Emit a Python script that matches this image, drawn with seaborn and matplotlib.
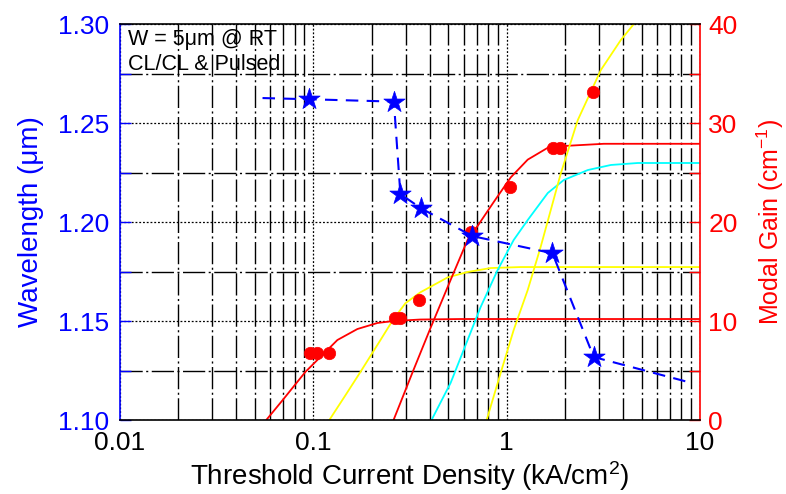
import numpy as np
import pandas as pd
import matplotlib
matplotlib.use("Agg")
import matplotlib.pyplot as plt
import seaborn as sns
from matplotlib.ticker import FixedLocator, NullFormatter, FixedFormatter

# ---------------- data ----------------
# wavelength vs threshold current density (left axis)
star_j = [0.0945, 0.261, 0.282, 0.361, 0.664, 1.725, 2.82]
star_wl = [1.2620, 1.2608, 1.2141, 1.2069, 1.1929, 1.1842, 1.1318]
trend_start_j, trend_start_wl = 0.0546, 1.2626
trend_end_j, trend_end_wl = 8.67, 1.1192

# measured modal gain points (right axis)
dot_j = [0.0965, 0.105, 0.121, 0.263, 0.282, 0.354, 0.651, 1.036, 1.73, 1.88, 2.79]
dot_g = [6.8, 6.8, 6.8, 10.3, 10.3, 12.1, 19.0, 23.5, 27.5, 27.5, 33.1]

# gain curves (right axis)
red1_j = [0.0571, 0.070, 0.0909, 0.1049, 0.1332, 0.169, 0.2146, 0.26, 0.358, 0.578, 10]
red1_g = [0.0, 2.1, 4.85, 6.06, 8.08, 9.19, 9.8, 10.0, 10.15, 10.2, 10.2]

yel1_j = [0.121, 0.1466, 0.1752, 0.2225, 0.2598, 0.2997, 0.358, 0.4948, 0.628, 0.826, 1.182, 10]
yel1_g = [0.0, 2.5, 4.85, 8.08, 10.2, 11.8, 12.9, 14.4, 14.95, 15.35, 15.45, 15.45]

red2_j = [0.26, 0.3296, 0.4037, 0.5128, 0.628, 0.7073, 0.856, 1.049, 1.285, 1.632, 2.07, 3.18, 10]
red2_g = [0.0, 5.05, 9.29, 14.14, 18.2, 19.6, 22.0, 24.5, 26.3, 27.5, 27.7, 27.9, 27.9]

cyan_j = [0.4087, 0.5128, 0.628, 0.7334, 0.898, 1.087, 1.285, 1.632, 1.974, 2.63, 3.46, 4.77, 10]
cyan_g = [0.0, 3.74, 8.08, 11.41, 15.15, 18.18, 20.2, 22.93, 24.24, 25.25, 25.76, 25.96, 25.96]

yel2_j = [0.788, 0.931, 1.087, 1.285, 1.50, 1.905, 2.333, 3.07, 3.90, 4.55, 5.25]
yel2_g = [0.0, 4.75, 9.09, 13.13, 17.5, 24.9, 30.3, 35.35, 38.4, 40.0, 41.2]

x_ticks = [0.01, 0.1, 1, 10]
x_labels = ["0.01", "0.1", "1", "10"]
wl_ticks = [1.10, 1.15, 1.20, 1.25, 1.30]
gain_ticks = [0, 10, 20, 30, 40]

# ---------------- style ----------------
sns.set_theme(style="white")
plt.rcParams["font.family"] = ["Liberation Sans", "DejaVu Sans"]
plt.rcParams["mathtext.fontset"] = "custom"
plt.rcParams["mathtext.rm"] = "Liberation Sans"
plt.rcParams["mathtext.it"] = "Liberation Sans:italic"
plt.rcParams["mathtext.default"] = "regular"

BLUE = (0, 0, 1)
RED = (1, 0, 0)
YEL = (1, 1, 0)
CYAN = (0, 1, 1)

fig = plt.figure(figsize=(7.86, 4.94), dpi=100)
ax = fig.add_axes([120 / 786, 1 - 420 / 494, 580 / 786, 396 / 494])
ax2 = ax.twinx()
ax.set_zorder(2)
ax2.set_zorder(1)
ax.patch.set_visible(False)
ax2.patch.set_facecolor("white")

for a in (ax, ax2):
    a.set_xscale("log")
    a.set_xlim(0.01, 10)

# ---------------- gain axis (lower layer, carries grid) ----------------
curves = [
    (red1_j, red1_g, RED),
    (yel1_j, yel1_g, YEL),
    (red2_j, red2_g, RED),
    (cyan_j, cyan_g, CYAN),
    (yel2_j, yel2_g, YEL),
]
for cj, cg, col in curves:
    df = pd.DataFrame({"J": cj, "G": cg})
    sns.lineplot(data=df, x="J", y="G", ax=ax2, color=col, lw=1.3,
                 sort=False, estimator=None, legend=False)

df_dots = pd.DataFrame({"J": dot_j, "G": dot_g})
sns.scatterplot(data=df_dots, x="J", y="G", ax=ax2, color=RED, s=80,
                edgecolor=RED, linewidth=0.5, legend=False, zorder=5)

ax2.set_ylim(0, 40)
ax2.yaxis.set_major_locator(FixedLocator(gain_ticks))
ax2.yaxis.set_minor_locator(FixedLocator([5, 15, 25, 35]))
ax2.yaxis.set_minor_formatter(NullFormatter())
ax2.set_yticklabels([str(t) for t in gain_ticks])
ax2.tick_params(axis="y", which="both", direction="in", colors=RED,
                length=8, width=1, labelsize=19, pad=6)
ax2.set_ylabel("Modal Gain (cm$^{-1}$)", color=RED, fontsize=18, labelpad=12)

minor_x = [m * 10.0 ** e for e in (-2, -1, 0) for m in range(2, 10)]
ax2.xaxis.set_visible(True)
ax2.xaxis.set_major_locator(FixedLocator(x_ticks))
ax2.xaxis.set_minor_locator(FixedLocator(minor_x))
ax2.xaxis.set_major_formatter(NullFormatter())
ax2.xaxis.set_minor_formatter(NullFormatter())
ax2.tick_params(axis="x", which="both", bottom=False, top=False,
                labelbottom=False, labeltop=False)
ax2.grid(which="major", axis="both", color="black", linestyle=(0, (1.5, 1.5)), lw=0.9)
ax2.grid(which="minor", axis="both", color="black", linestyle=(0, (16, 2.5, 1.5, 2.5)), lw=1.0)
ax2.set_axisbelow(True)
ax2.set_xlabel("")
for s in ("left", "top", "bottom"):
    ax2.spines[s].set_visible(False)
ax2.spines["right"].set_color(RED)
ax2.spines["right"].set_linewidth(1.2)

# ---------------- wavelength axis (top layer) ----------------
trend_j = [trend_start_j] + star_j + [trend_end_j]
trend_wl = [trend_start_wl] + star_wl + [trend_end_wl]
df_tr = pd.DataFrame({"J": trend_j, "WL": trend_wl})
sns.lineplot(data=df_tr, x="J", y="WL", ax=ax, color=BLUE, lw=1.5,
             sort=False, estimator=None, legend=False, dashes=False,
             linestyle=(0, (6, 4)))
df_st = pd.DataFrame({"J": star_j, "WL": star_wl})
sns.scatterplot(data=df_st, x="J", y="WL", ax=ax, color=BLUE, marker="*",
                s=260, edgecolor=BLUE, linewidth=0.5, legend=False, zorder=6)

ax.set_ylim(1.10, 1.30)
ax.yaxis.set_major_locator(FixedLocator(wl_ticks))
ax.yaxis.set_minor_locator(FixedLocator([1.125, 1.175, 1.225, 1.275]))
ax.yaxis.set_minor_formatter(NullFormatter())
ax.set_yticklabels([f"{t:.2f}" for t in wl_ticks])
ax.tick_params(axis="y", which="both", direction="in", colors=BLUE,
               length=8, width=1, labelsize=19, pad=8)
ax.set_ylabel("Wavelength (\u03bcm)", color=BLUE, fontsize=20, labelpad=10)

ax.xaxis.set_major_locator(FixedLocator(x_ticks))
ax.xaxis.set_major_formatter(FixedFormatter(x_labels))
ax.xaxis.set_minor_locator(FixedLocator(minor_x))
ax.xaxis.set_minor_formatter(NullFormatter())
ax.tick_params(axis="x", which="both", direction="in", colors="black",
               length=6, width=1, labelsize=19, pad=8, top=False)
ax.set_xlabel("Threshold Current Density (kA/cm$^2$)", color="black", fontsize=20, labelpad=3)
ax.grid(False)

ax.spines["right"].set_visible(False)
ax.spines["left"].set_color(BLUE)
ax.spines["left"].set_linewidth(1.2)
ax.spines["top"].set_color("black")
ax.spines["bottom"].set_color("black")
ax.spines["top"].set_linewidth(1.2)
ax.spines["bottom"].set_linewidth(1.2)

ax.text(0.014, 0.988, "W = 5\u03bcm @ RT\nCL/CL & Pulsed", transform=ax.transAxes,
        ha="left", va="top", fontsize=15.5, color="black", linespacing=1.25)

fig.savefig("out.png", dpi=100, facecolor="white")
